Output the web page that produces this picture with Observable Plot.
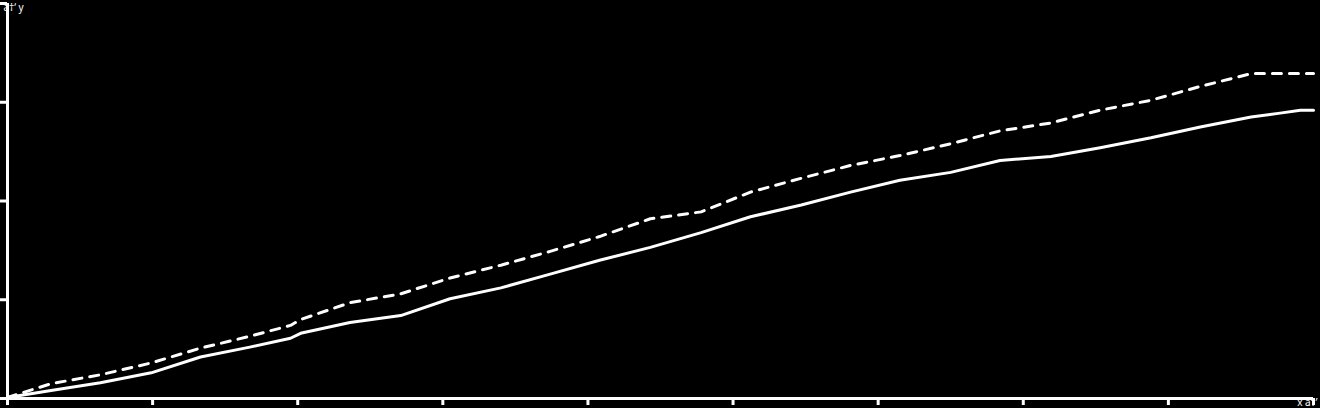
<!DOCTYPE html>
<html><head>
<script src="https://cdn.jsdelivr.net/npm/d3@7"></script>
<script src="https://cdn.jsdelivr.net/npm/@observablehq/plot@0.6"></script>
<style>body{margin:0;background:#000}</style>
</head><body><div id="chart"></div>
<script>
const xs = [0, 0.30, 0.64, 0.99, 1.33, 1.67, 1.95, 2.02, 2.36, 2.71, 3.05, 3.40, 3.74, 4.08, 4.43, 4.78, 5.12, 5.47, 5.81, 6.15, 6.50, 6.84, 7.19, 7.53, 7.88, 8.22, 8.57, 8.77, 8.91, 9];
const solid = [0.01, 0.08, 0.16, 0.26, 0.42, 0.52, 0.61, 0.66, 0.77, 0.84, 1.01, 1.12, 1.26, 1.40, 1.53, 1.68, 1.84, 1.96, 2.09, 2.21, 2.29, 2.41, 2.45, 2.54, 2.64, 2.75, 2.85, 2.89, 2.92, 2.92];
const dashed = [0.01, 0.15, 0.24, 0.36, 0.51, 0.63, 0.74, 0.80, 0.97, 1.06, 1.22, 1.35, 1.49, 1.64, 1.82, 1.89, 2.09, 2.23, 2.36, 2.46, 2.58, 2.71, 2.79, 2.92, 3.02, 3.16, 3.29, 3.29, 3.29, 3.29];
const xTicks = d3.range(0, 10);
const yTicks = d3.range(0, 5);

const solidData = xs.map((x, i) => ({x, y: solid[i]}));
const dashedData = xs.map((x, i) => ({x, y: dashed[i]}));

const chart = Plot.plot({
  width: 1320, height: 408,
  marginLeft: 7, marginRight: 7, marginTop: 3, marginBottom: 10,
  style: {background: "#000", color: "#fff"},
  x: {domain: [0, 9], ticks: xTicks, tickFormat: () => ""},
  y: {domain: [0, 4], ticks: yTicks, tickFormat: () => ""},
  marks: [
    Plot.axisX({ticks: xTicks, tickSize: 7, tickFormat: () => "", stroke: "#fff", strokeWidth: 3}),
    Plot.axisY({ticks: yTicks, tickSize: 7, tickFormat: () => "", stroke: "#fff", strokeWidth: 3}),
    Plot.ruleY([0], {stroke: "#fff", strokeWidth: 3}),
    Plot.ruleX([0], {stroke: "#fff", strokeWidth: 3}),
    Plot.line(dashedData, {x: "x", y: "y", stroke: "#fff", strokeWidth: 3, strokeDasharray: "9,8"}),
    Plot.line(solidData, {x: "x", y: "y", stroke: "#fff", strokeWidth: 3})
  ]
});
d3.select('#chart').append(() => chart);
</script>
</body></html>
